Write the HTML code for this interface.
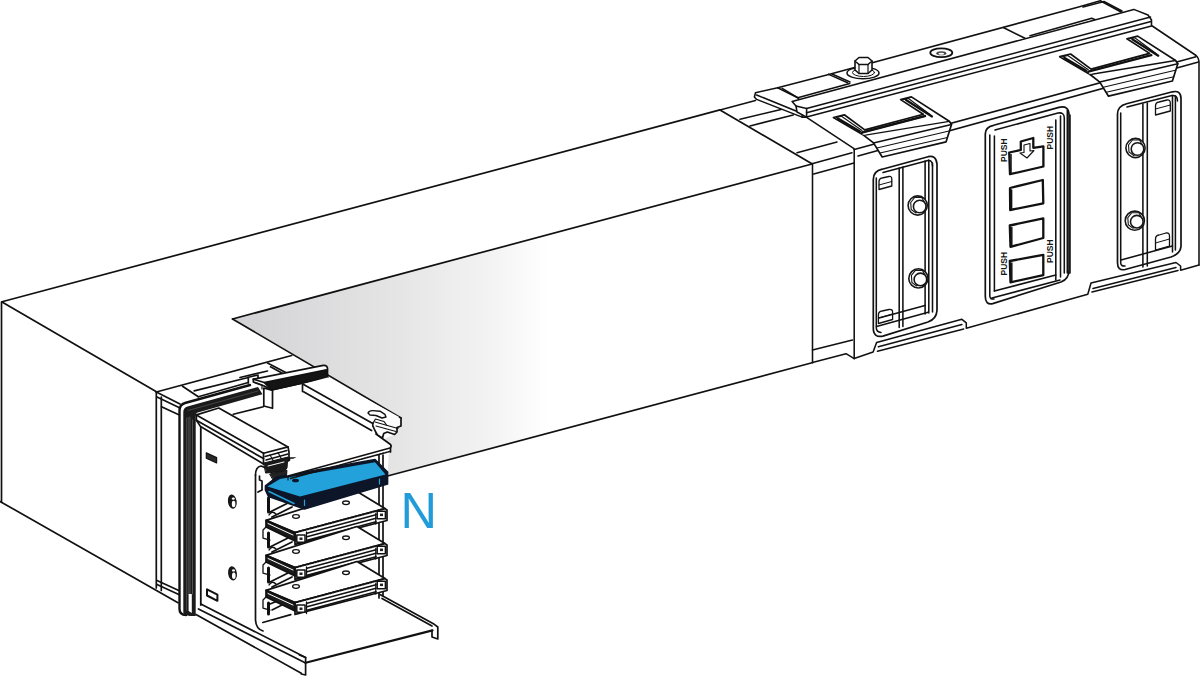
<!DOCTYPE html>
<html><head><meta charset="utf-8"><style>
html,body{margin:0;padding:0;background:#fff;width:1200px;height:676px;overflow:hidden}
svg{display:block}
</style></head><body>
<svg width="1200" height="676" viewBox="0 0 1200 676">
<defs>
<linearGradient id="g1" gradientUnits="userSpaceOnUse" x1="232" y1="0" x2="548" y2="0">
<stop offset="0" stop-color="#d2d2d4"/>
<stop offset="0.5" stop-color="#e4e4e5"/>
<stop offset="0.8" stop-color="#f2f2f2"/>
<stop offset="1" stop-color="#ffffff"/>
</linearGradient>
</defs>
<g fill="none" stroke="#111" stroke-width="1.7" stroke-linejoin="round" stroke-linecap="round">
<!-- gray face -->
<path d="M232.5,319 L812,164 L812,362.5 L387.5,476 L389,452 L391,446 L384,439 L394.6,434.5 L397,432 L397,427.5 L401,426 L401,418 Z" fill="url(#g1)" stroke="none"/>
<!-- main outlines -->
<path d="M2,301.8 L720,109.9"/>
<path d="M1.5,302 L1.5,501.4"/>
<path d="M2,302 L156,391.5"/>
<path d="M0,501.4 L178,602.8"/>
<path d="M232.5,319 L812,164"/>
<path d="M232.5,319 L401,418"/>
<path d="M387.5,476 L813,362.5"/>
<path d="M720,109.9 L811.5,163.5"/>

<!-- ===== LEFT END FRAME ===== -->
<g id="frame">
<!-- outer frame front -->
<path d="M156.3,392 L156.3,588"/>
<path d="M161.3,397 L161.3,590.5"/>
<path d="M156.3,392 L180,404"/>
<path d="M157,397 L179,407.5"/>
<path d="M161.5,406.7 L178.8,414.7"/>
<path d="M157,580.4 L178.8,590.4"/>
<path d="M157,584.4 L178.8,594.6"/>
<!-- outer frame top -->
<path d="M156.3,392 L291.7,355.5"/>
<path d="M182.5,386.2 L198.3,396.7"/>
<path d="M198.3,396.7 L248.3,382.5"/>
<path d="M194.2,390.8 L248.3,377.5"/>
<path d="M248.3,377.5 L248.3,383"/>
<path d="M267.5,362.9 L286.7,372.9"/>
<path d="M270.5,366.8 L285.5,375"/>
<path d="M247.5,377.5 L258,375 L258,379.5"/>
<path d="M240,377.5 L267.5,371"/>
<!-- frame inner edge line -->
<path d="M186,615 Q179.5,615 179.5,609 L179.5,411 Q179.5,404.5 185,403 L250,385" stroke-width="2.4"/>
<!-- gasket dark -->
<path d="M183.3,613 L183.3,412 Q183.3,407.8 187.5,406.6 L258,387 L262.5,394.2 L197,412.8 Q195.7,413.5 195.7,416 L195.7,616 L190,616 Q184,615 183.3,613 Z" fill="#1b1b1b" stroke="none"/>
<path d="M189.2,418 L189.2,594" stroke="#3c3c3c" stroke-width="3.2"/>
<path d="M186.6,418 L186.6,610" stroke="#555" stroke-width="0.8"/>
<path d="M192.5,420 L192.5,594" stroke="#5a5a5a" stroke-width="0.9"/>
<path d="M188.6,594 L191.8,594 L191.8,613 L188.6,611 Z" fill="#fff" stroke="none"/>
<path d="M188,410.5 L258,391" stroke="#4a4a4a" stroke-width="0.9"/>
<path d="M200.8,426 L200.8,605" stroke-width="1.8"/>
<!-- clamp bar -->
<path d="M253.3,379.2 L323.3,365.4 Q328,365 327.5,370 L327.5,377.5 L271.7,390 L264.2,386 L253.3,382 Z" fill="#fff"/>
<path d="M264.2,382.5 L326.5,369.8 L327.5,377.5 L271.7,390 Z" fill="#141414"/>
<path d="M253.3,379.2 L264.2,382.5"/>
<!-- bracket -->
<path d="M263.8,388 L272.5,390.5 L272.5,408.3 L263.8,406 Z" fill="#fff"/>
<path d="M256,383 L262,385 L262,389" stroke-width="1.2"/>
<!-- left rail -->
<path d="M218.8,408 L288,446.9 L289,452 L289,460 L280,463 L263.5,464 L200.6,426.6 L196.4,420.2 L196.4,414.9 Z" fill="#fff"/>
<path d="M196.4,414.9 L263.5,453.2 L288,446.9"/>
<path d="M196.4,420.2 L263.5,458.6"/>
<path d="M263.5,453.2 L263.5,464"/>
<path d="M233.3,414.2 L263.3,406.7"/>
<path d="M265,456.5 L287,450.5 M266,460 L288,454" stroke-width="1.4"/>
<path d="M270,455 L274,462 M278,452.5 L282,460" stroke-width="1.1"/>
<!-- right rail -->
<path d="M303.6,384 L327.5,377.5 L401,418 L401,426 L397,427.5 L397,432 L394.6,434.5 L387.3,432 L383.7,433.5 L382.5,438 L377.6,435.5 L375.2,431 L371.6,430.6 L303.6,391.8 Z" fill="#fff" stroke="none"/>
<path d="M303.6,384.6 L372.8,423.4"/>
<path d="M303.6,391.8 L371.6,430.6"/>
<path d="M302.5,384.6 L302.5,391.5"/>
<path d="M399.5,417.3 L401,418 L401,426 L397,427.5 L397,432 L394.6,434.5 L387.3,432 L383.7,433.5 L382.5,438 L377.6,435.5 L375.2,431 L372.8,425.8 L372.8,423.4"/>
<path d="M368,413 Q369,410.5 372.8,410.6 L380,411.2 L384.9,414.3 L386,417 L382,418 L376,415.5 L370,415 Z" stroke-width="1.4"/>
<path d="M375,422 L398,428.5 M376,426 L396,431.5" stroke-width="1.2"/>
<path d="M372.8,423.4 L375.5,419 L384,421.5 L386.5,425" stroke-width="1.2"/>
<!-- top plate -->

<!-- side plate -->
<path d="M255.5,475 L255.5,620 Q256,629 263,631"/>
<path d="M255.5,475 Q255.5,467 261,466 L266,468"/>
<path d="M259.5,476 L259.5,480 L262,481 L262,490 L258,492"/>
<!-- cage posts -->
<path d="M262.8,622.5 L290.8,614.6"/>
<path d="M379,455 L379,598"/>
<path d="M383,455 L383,596"/>
<path d="M268.5,498 L268.5,512 M268.5,533 L268.5,547 M268.5,568 L268.5,582 M268.5,603 L268.5,614" stroke-width="3"/>
<g id="sup">
<path d="M270,512 L288,503 M272,517 L292,507" stroke-width="1.8"/>
<path d="M269,515 Q272,510 276,514" stroke-width="1.4"/>
<path d="M276,524 L292,515" stroke-width="1.2"/>
</g>
<use href="#sup" y="35"/>
<use href="#sup" y="70"/>
<path d="M270,604 L290,596 M272,610 L288,602" stroke-width="1.6"/>
<!-- slots and holes -->
<path d="M206.3,452.8 L216.6,457.6 L216.6,463 L206.3,458.2 Z" fill="#2a2a2a" stroke-width="1.2"/>
<path d="M207,589.3 L217.4,594.6 L217.4,600.8 L207,595.5 Z" stroke-width="2"/>
<g id="hole1">
<ellipse cx="232.3" cy="501.6" rx="4.4" ry="7.2" fill="#161616" stroke="none" transform="rotate(-8 232.3 501.6)"/>
<ellipse cx="233.6" cy="504" rx="1.8" ry="3.3" fill="#fff" stroke="none"/>
<ellipse cx="233.3" cy="498.6" rx="1.5" ry="1.2" fill="#fff" stroke="none"/>
</g>
<use href="#hole1" x="0.2" y="71.8"/>
<!-- bottom rail of front plate -->
<path d="M200.8,604 L305.6,657.5"/>
<path d="M198.5,609 L305.6,663"/>
<path d="M196,614.5 L301.3,673.3"/>
<path d="M299.5,655 L305.6,657.5 L305.6,675 L301.3,674"/>
<!-- floor -->
<path d="M305.6,662.8 L432.5,630.4" stroke-width="2.2"/>
<path d="M380,594.5 L434.3,624.3 L437.8,627 L437.8,639 L432,637 L432,630.4"/>
<path d="M382,598.5 L432,626"/>
</g>

<!-- busbars -->
<g id="bars">
<g id="bar1">
<path d="M266,520.4 L295,532.6 L385,508.6 L357,491.5 Z" fill="#fff"/>
<path d="M295,532.6 L295,544.4 L387,520.5 L387,510 L385,508.6" fill="#fff"/>
<path d="M266,520.4 L266,527 L295,541 L295,532.6 Z" fill="#1a1a1a"/>
<path d="M268,523.5 L293,535" stroke="#fff" stroke-width="1"/>
<path d="M307,533.3 L376,514.8" stroke-width="1.5"/>
<path d="M307,536.8 L376,518.3" stroke-width="1.5"/>
<path d="M307,540.2 L376,521.7" stroke-width="1.5"/>
<path d="M306.5,532 L306.5,543.5 M375.8,513.5 L375.8,524" stroke-width="1.3"/>
<path d="M295,532.6 L385,508.6" stroke-width="2" stroke-dasharray="1.2 1.4"/>
<rect x="296.8" y="535" width="8.2" height="7.2" fill="#fff" stroke-width="1.5"/>
<rect x="299.5" y="537.5" width="3" height="2.5" fill="#222" stroke="none"/>
<rect x="377.2" y="511.2" width="8.2" height="7.5" fill="#fff" stroke-width="1.5"/>
<rect x="380" y="513.6" width="3" height="2.5" fill="#222" stroke="none"/>
<ellipse cx="296" cy="516.5" rx="3.4" ry="1.8" stroke-width="1.3"/>
<ellipse cx="346" cy="502.8" rx="3.4" ry="1.8" stroke-width="1.3"/>
<path d="M266,527 L263,530 L263,538 L270,540" stroke-width="1.3"/>
</g>
<use href="#bar1" y="35"/>
<use href="#bar1" y="70"/>
</g>
<!-- rail end dark bits -->
<path d="M264,463 L288,457 L289.5,466 L283,471.5 L266,473 Z" fill="#1a1a1a" stroke-width="1"/>
<path d="M268,466 L284,462" stroke="#fff" stroke-width="1"/>
<rect x="289.5" y="458" width="8" height="7.5" fill="#fff" stroke-width="1.5"/>
<rect x="292" y="460.5" width="3" height="2.5" fill="#1a1a1a" stroke="none"/>
<path d="M297.5,461 L306,463.5 L297.5,465.5 Z" fill="#1a1a1a" stroke-width="1"/>
<path d="M270,474 L287,470 L289,476 L274,481 Z" fill="#222" stroke-width="1"/>
<!-- N bar -->
<path d="M265.5,486 L277,477 L375,459.5 L387.5,472 L387.5,484 L304.5,509 L268.5,496.5 L265.5,490 Z" fill="#0c1628" stroke="#0c1628"/>
<path d="M267.5,486.5 L280,479 L375,462.3 L385.5,474.5 L300,496.5 Z" fill="#22a1db" stroke="none"/>
<path d="M269,491.5 L294,503.5" stroke="#22a1db" stroke-width="1.5"/>
<path d="M304.5,500 L304.5,505.5 M379.5,479 L379.5,484" stroke="#22a1db" stroke-width="1.2"/>
<ellipse cx="295.5" cy="480.5" rx="3.5" ry="1.8" fill="#0c1628" stroke="none"/>
<!-- top plate (over N bar) -->
<path d="M287,476.3 L390,448 L391,445.5 L384,439 L376,434.5 L300,455 L288,462 Z" fill="#fff" stroke="none"/>
<path d="M287,476.3 L390,448 Q392,446.5 390.5,444.5 L376,434" />
<path d="M389.5,451.5 L290,478.6" stroke-width="1.6" stroke-dasharray="1.6 1.2"/>
<path d="M390.5,448 L390.5,452"/>
<path d="M288,476.5 L288,480" stroke-width="1.2"/>
</g>

<!-- N letter -->
<text x="400.6" y="527.6" font-family="Liberation Sans, sans-serif" font-size="50.5" fill="#229cd9">N</text>

<!-- ===== JOINT + CONNECTOR ===== -->
<g fill="none" stroke="#111" stroke-width="1.55" stroke-linejoin="round" stroke-linecap="round">
<!-- joint block -->
<path d="M812.5,163.5 L812.5,362.5"/>
<path d="M854.2,149.6 L854.2,358.5"/>
<path d="M812,163.7 L852,152.8"/>
<path d="M813.7,174 L854,163"/>
<path d="M812.5,350 L852.5,340"/>
<path d="M812.5,362.5 L846,353.7 L854.2,358.7"/>
<path d="M740,119.3 L781,109.4"/>
<path d="M750,126 L793.2,114.9"/>
<path d="M797,152.8 L837,142"/>
<path d="M720,109.9 L755.5,100.5"/>
<!-- small clamp on joint -->
<path d="M755.5,92.7 L777.7,87.7 L797.7,97.7 L806.6,109 L806.6,117.1 L802.1,117.1 L756.6,99.4 L754.4,97 Z" fill="#fff"/>
<path d="M756.6,95 L802.1,113.5 L802.1,117.1"/>
<path d="M782.2,88.3 L797.7,97.7 L849.8,83.5"/>
<path d="M777.7,87.7 L828.7,74.4"/>
<path d="M828.7,74.4 L847.6,82.7"/>
<path d="M832,74 L850,82"/>
<!-- connector top back edge -->
<path d="M828.7,74.4 L1078.6,7 L1100.3,0.8 L1122,12.5"/>
<path d="M1083,7 L1104,1.5 L1122,11"/>
<path d="M1003.3,27.5 L1025,38.3"/>
<path d="M1030,35.8 L1091.7,18.3 L1096,20"/>
<path d="M1032,38 L1093,21"/>
<!-- long top clamp bar -->
<path d="M792.1,101.6 L1133.8,9.4 L1148,15 L1151.5,20 L1151.5,26 L806.6,117.1 L797,112 L796,106 Z" fill="#fff"/>
<path d="M806.6,108.5 L1150.5,17"/>
<path d="M806.6,112.7 L1151,21.5"/>
<path d="M796,106 L806.6,108.5 L806.6,117.1"/>
<!-- bolt on top -->
<ellipse cx="863" cy="73" rx="16" ry="5.8" fill="#fff" stroke-width="1.5"/>
<ellipse cx="863.5" cy="72.5" rx="11" ry="4" fill="none" stroke-width="1"/>
<path d="M855,61 L855,70 L859,73.5 L868,73.5 L872,70 L872,61 Z" fill="#fff" stroke-width="1.6"/>
<path d="M855,61 L859,57.5 L868,57.5 L872,61 L868,64.5 L859,64.5 Z" fill="#fff" stroke-width="1.6"/>
<path d="M859,64.5 L859,73.5 M868,64.5 L868,73.5" stroke-width="1.2"/>
<!-- hole -->
<ellipse cx="941.3" cy="52.8" rx="11" ry="4.4" stroke-width="1.8"/>
<ellipse cx="941.3" cy="53.2" rx="5" ry="2" fill="#444" stroke="none"/>
<ellipse cx="941.3" cy="53.8" rx="3" ry="1" fill="#fff" stroke="none"/>
<!-- connector housing -->
<path d="M807,117.7 L854,148.6"/>
<path d="M854.2,149.6 L1196,56.7"/>
<path d="M858,156 L1198.5,62"/>
<path d="M1152.3,26 L1196.1,55.5 Q1199,58 1199,63 L1199,265"/>
<!-- bracket 1 -->
<g id="brk">
<path d="M833.4,117.5 L844.3,114.8 L864.8,129.9 L923.3,114.2 L900.6,99.6 L911.4,96.9 L949.3,121.3 L951.5,124.5 L946.1,141.8 L882.2,157 L873.5,142.9 L863.8,135.3 Z" fill="#fff" stroke-width="1.7"/>
<path d="M863.8,135.3 L949.3,121.3" stroke-width="1.3"/>
<path d="M873.5,142.9 L951.5,124.5"/>
<path d="M877,148 L949,131" stroke-width="1.1"/>
<path d="M880,153 L947.5,137.5" stroke-width="1.1"/>
<path d="M836.5,117.5 L841.5,116.3 L862,130.5" stroke-width="1.1"/>
<path d="M838,118.5 L860,131.5" stroke-width="2.2"/>
<path d="M903.5,99.6 L908.5,98.5 L930,114.5" stroke-width="1.1"/>
<path d="M906,100 L932,116.5" stroke-width="2.2"/>
<path d="M862,132.5 L925,116" stroke-width="2.4"/>
<path d="M863,134.5 L926,118" stroke="#fff" stroke-width="0.8"/>
</g>
<use href="#brk" x="226.3" y="-60.8"/>
<!-- connector bottom -->
<path d="M854.2,358.5 L873.1,352.1 L876.6,342.4 L961.9,319.3 L966.3,322.8 L966.3,328.2 L1087.8,294.3 L1091,283 L1176,262.5 L1180.6,266 L1180.6,270.2 L1199,265"/>
<path d="M878.4,346.8 L961.9,324.6"/>
<path d="M877.5,351.2 L963.7,329"/>
<path d="M1093,288.5 L1176,267.5"/>
<path d="M1092,292 L1178,270.5"/>
<!-- panel A -->
<path d="M882.2,169.2 L928.1,156.7 Q936.2,155 937,164 L937,310.4 Q936.5,319 928,322 L882.9,336.1 Q873.3,338 873.3,328 L873.3,179.6 Q873.3,171 882.2,169.2 Z" stroke-width="1.7"/>
<path d="M876.3,178 L876.3,328 Q876.5,332 881,332.5"/>
<path d="M883,172.5 L928,160.5 Q932.5,160 932.5,166"/>
<path d="M899.2,168 L899.2,327.5"/>
<path d="M902.9,167 L902.9,326.5"/>
<path d="M925.1,161 L925.1,314"/>
<path d="M928.8,160 L928.8,313"/>
<path d="M932.5,163 L932.5,312"/>
<path d="M876.6,326.4 L928.2,312.2"/>
<path d="M879,318 L925,305.5"/>
<path d="M879,182 Q879,178.5 882,178 L889,176.5 Q891.8,176 891.8,179 L891.8,186 L879,189.5 Z" stroke-width="1.3"/>
<path d="M879,185 L891.8,181.5" stroke-width="1"/>
<path d="M878.4,315 Q878.4,311.5 882,311 L889,309.5 Q892.6,309 892.6,312 L892.6,319.5 L878.4,323.5 Z" stroke-width="1.3"/>
<path d="M878.4,318 L892.6,314" stroke-width="1"/>
<!-- panel B -->
<path d="M993.6,125.3 L1058.9,107.4 Q1069,105 1069,115.2 L1069,270 Q1069,279 1061,282 L992.7,303.6 Q985.3,305 985.3,296.5 L985.3,133.8 Q985.3,127 993.6,125.3 Z" stroke-width="1.7"/>
<path d="M989.8,135 L989.8,296 Q990,299.5 994,299"/>
<path d="M994.4,136 L994.4,291"/>
<path d="M995,130 L1058,113 Q1064.3,112 1064.3,118 L1064.3,273"/>
<path d="M1055.8,120 L1055.8,280"/>
<path d="M1060.5,116 L1060.5,277"/>
<path d="M1067.3,110 L1067.3,273 L1070,273 L1070,115"/>
<path d="M994.4,291 L1055.8,275"/>
<path d="M992,298 L1060,280"/>
<!-- windows -->
<g stroke-width="2.3">
<path d="M1010,188 L1042.8,180 L1043.3,203.3 L1010.2,210 Z"/>
<path d="M1009.8,225.5 L1043.3,218.4 L1043.3,238 L1010.5,246.8 Z"/>
<path d="M1009.8,261 L1043.3,254.8 L1043.3,275.2 L1010.5,282.3 Z"/>
<path d="M1009.2,152.5 L1020.8,150 L1020.8,141.5 L1033.3,138 L1033.3,147.8 L1043.4,146.3 L1043.4,166.5 L1010,174.2 Z"/>
</g>
<path d="M1011.6,190 L1011.6,209 M1011.8,227.5 L1011.8,246 M1011.8,263 L1011.8,281.5 M1011,154.5 L1011,173" stroke-width="1.5"/>
<path d="M1024,145 L1030,143.5 L1030,151 L1034,150.5 L1027,158 L1020,153 L1024,152.5 Z" stroke-width="1.1"/>
<!-- panel C -->
<path d="M1126.6,103.7 L1172.5,91.8 Q1181,90 1181,98.5 L1181,246.6 Q1180,254 1171,257 L1125.1,269.5 Q1117.5,271 1117.5,262.8 L1117.5,114 Q1117.5,106 1126.6,103.7 Z" stroke-width="1.7"/>
<path d="M1120.7,113 L1120.7,263 Q1121,266.5 1125,266"/>
<path d="M1127,107 L1172,95.5 Q1177.5,95 1177.5,101"/>
<path d="M1142.9,104 L1142.9,267"/>
<path d="M1147.3,103 L1147.3,266"/>
<path d="M1172.5,95.5 L1172.5,252"/>
<path d="M1175.4,96 L1175.4,250"/>
<path d="M1121,260 L1172.5,246"/>
<path d="M1155.5,106 Q1155.5,102.5 1159,102 L1167,100 Q1170.3,99.5 1170.3,103 L1170.3,111 L1155.5,115 Z" stroke-width="1.3"/>
<path d="M1155.5,109 L1170.3,105" stroke-width="1"/>
<path d="M1155.5,239 Q1155.5,235.5 1159,235 L1166,233 Q1169.5,232.5 1169.5,236 L1169.5,246 L1155.5,250 Z" stroke-width="1.3"/>
<path d="M1155.5,243 L1169.5,239" stroke-width="1"/>
</g>
<!-- bolts -->
<g id="bolts" fill="#fff" stroke="#161616" stroke-width="1.6">
<g id="bolt1" transform="translate(917.7,205.5)">
<circle r="9.6"/>
<path d="M-7,-3 L-3,-8 L4,-8 L7.5,-2 L5,5 L-2,7.5 L-6.5,4 Z" stroke-width="1.1"/>
<circle cx="2" cy="1" r="6.3"/>
</g>
<use href="#bolt1" x="0.7" y="72.9"/>
<use href="#bolt1" x="217.8" y="-57.5"/>
<use href="#bolt1" x="217.1" y="15.2"/>
</g>
<!-- PUSH text -->
<g font-family="Liberation Sans, sans-serif" font-weight="bold" font-size="8.5" fill="#161616">
<text transform="translate(1006.5,162) rotate(-90)">PUSH</text>
<text transform="translate(1053,149.5) rotate(-90)">PUSH</text>
<text transform="translate(1006.8,275.5) rotate(-90)">PUSH</text>
<text transform="translate(1053,263) rotate(-90)">PUSH</text>
</g>
</svg>
</body></html>
